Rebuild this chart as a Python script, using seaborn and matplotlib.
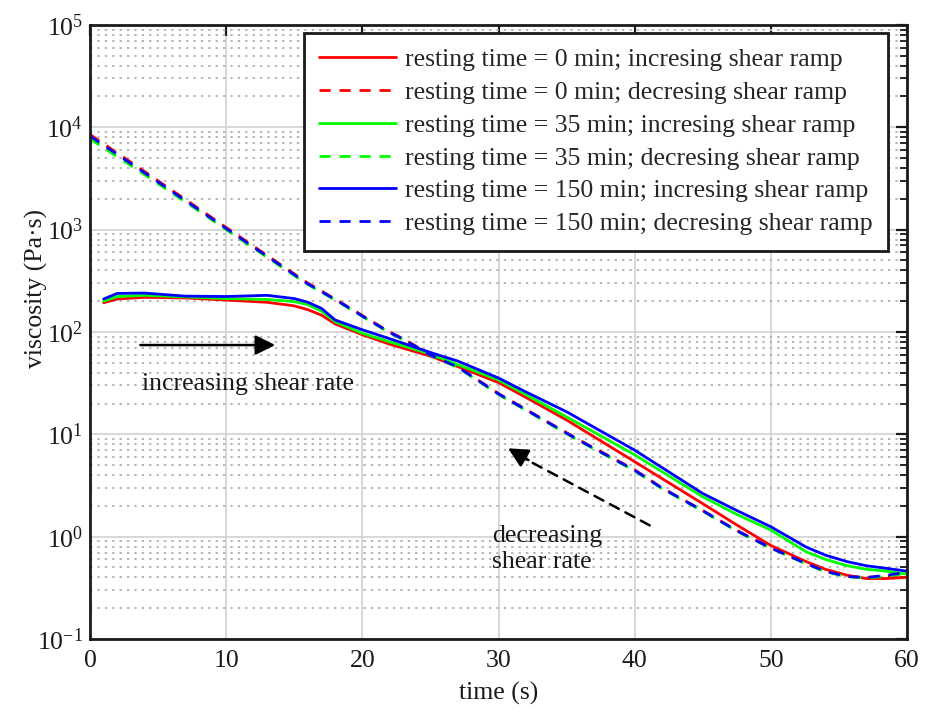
import numpy as np
import pandas as pd
import matplotlib
matplotlib.use("Agg")
import matplotlib.pyplot as plt
import seaborn as sns
from matplotlib.ticker import FixedLocator, FixedFormatter, NullFormatter

# --- data -------------------------------------------------------------
t_inc = [1, 2, 4, 7, 10, 13, 15, 16, 17, 18, 20, 22, 25, 27, 30, 32, 35, 40,
         45, 47.5, 50, 52.6, 54, 55.6, 57, 58.5, 60]
red_inc = [193, 210, 218, 215, 205, 195, 180, 165, 146, 120, 94, 76, 58, 46,
           32, 23, 13.8, 5.4, 2.1, 1.3, 0.82, 0.57, 0.48, 0.42, 0.39, 0.39, 0.40]
green_inc = [200, 222, 228, 220, 212, 208, 198, 185, 160, 126, 97, 80, 61, 48,
             34, 24.5, 14.8, 6.3, 2.45, 1.65, 1.16, 0.71, 0.60, 0.52, 0.48, 0.46, 0.43]
blue_inc = [210, 238, 240, 224, 222, 228, 212, 195, 170, 131, 105, 86, 63, 52,
            35.5, 26, 16.6, 7.0, 2.64, 1.8, 1.25, 0.79, 0.66, 0.57, 0.52, 0.49, 0.46]

t_dec = [0, 4, 8, 12, 16, 18, 20, 22, 23, 25, 27, 30, 33, 36, 40, 42, 45, 47.5,
         50, 52.6, 54, 55.6, 57, 58.5, 60]
red_dec = [8500, 3700, 1600, 690, 300, 210, 145, 100, 86, 60, 46, 25, 14.7, 8.7,
           4.5, 3.0, 1.8, 1.15, 0.78, 0.55, 0.46, 0.41, 0.40, 0.41, 0.43]
green_dec = [7700, 3450, 1520, 660, 290, 205, 142, 98, 84, 59, 45, 24.5, 14.4, 8.5,
             4.4, 2.95, 1.77, 1.13, 0.77, 0.54, 0.455, 0.405, 0.395, 0.41, 0.44]
blue_dec = [8200, 3600, 1560, 675, 295, 208, 143, 99, 85, 59.5, 45.5, 24.8, 14.6, 8.6,
            4.45, 2.98, 1.79, 1.14, 0.775, 0.545, 0.458, 0.408, 0.398, 0.42, 0.45]

labels = [
    "resting time = 0 min; incresing shear ramp",
    "resting time = 0 min; decresing shear ramp",
    "resting time = 35 min; incresing shear ramp",
    "resting time = 35 min; decresing shear ramp",
    "resting time = 150 min; incresing shear ramp",
    "resting time = 150 min; decresing shear ramp",
]
y_ticks = [0.1, 1, 10, 100, 1000, 10000, 100000]
y_tick_labels = [r"$10^{-1}$", r"$10^{0}$", r"$10^{1}$", r"$10^{2}$",
                 r"$10^{3}$", r"$10^{4}$", r"$10^{5}$"]
x_ticks = [0, 10, 20, 30, 40, 50, 60]

series = [
    (labels[0], t_inc, red_inc),
    (labels[1], t_dec, red_dec),
    (labels[2], t_inc, green_inc),
    (labels[3], t_dec, green_dec),
    (labels[4], t_inc, blue_inc),
    (labels[5], t_dec, blue_dec),
]
df = pd.concat(
    [pd.DataFrame({"time": t, "viscosity": v, "series": name}) for name, t, v in series],
    ignore_index=True,
)

# --- style ------------------------------------------------------------
sns.set_style("white")
plt.rcParams["font.family"] = ["Liberation Serif", "DejaVu Serif"]
plt.rcParams["mathtext.fontset"] = "custom"
plt.rcParams["mathtext.rm"] = "Liberation Serif"
plt.rcParams["mathtext.it"] = "Liberation Serif:italic"
plt.rcParams["mathtext.bf"] = "Liberation Serif:bold"

TXT = "#1a1a1a"
FS = 18.5

palette = {labels[0]: "#ff0000", labels[1]: "#ff0000",
           labels[2]: "#00ff00", labels[3]: "#00ff00",
           labels[4]: "#0000ff", labels[5]: "#0000ff"}
dash_map = {labels[0]: "", labels[1]: (4, 3.2),
            labels[2]: "", labels[3]: (4, 3.2),
            labels[4]: "", labels[5]: (4, 3.2)}

fig = plt.figure(figsize=(9.26, 7.13), dpi=100)
ax = fig.add_axes([0.0972, 0.1038, 0.8823, 0.8612])

sns.lineplot(data=df, x="time", y="viscosity", hue="series", style="series",
             hue_order=labels, style_order=labels, palette=palette,
             dashes=dash_map, estimator=None, sort=False, linewidth=2.0, ax=ax)

ax.set_yscale("log")
ax.set_xlim(0, 60)
ax.set_ylim(0.1, 1e5)

ax.xaxis.set_major_locator(FixedLocator(x_ticks))
ax.set_xticklabels([str(v) for v in x_ticks])
ax.yaxis.set_major_locator(FixedLocator(y_ticks))
ax.yaxis.set_major_formatter(FixedFormatter(y_tick_labels))
minor = [m * 10.0 ** e for e in range(-1, 5) for m in range(2, 10)]
ax.yaxis.set_minor_locator(FixedLocator(minor))
ax.yaxis.set_minor_formatter(NullFormatter())

ax.grid(True, which="major", axis="both", color="#d4d4d4", linewidth=1.3, linestyle="-")
ax.grid(True, which="minor", axis="y", color="#b5b5b5", linewidth=1.4,
        linestyle=(0, (1.2, 2.6)))
ax.set_axisbelow(True)

ax.tick_params(which="both", direction="in", top=True, right=True, colors=TXT,
               labelsize=18.5, labelcolor=TXT)
ax.tick_params(which="major", length=8, width=1.6)
ax.tick_params(which="minor", length=5, width=1.3)
ax.tick_params(axis="x", pad=8)
ax.tick_params(axis="y", pad=5)
for s in ax.spines.values():
    s.set_color(TXT)
    s.set_linewidth(2.0)

ax.set_xlabel("time (s)", fontsize=FS, color=TXT, labelpad=7)
ax.set_ylabel("viscosity (Pa·s)", fontsize=FS, color=TXT)
ax.yaxis.set_label_coords(-0.051, 0.57)

handles, hl = ax.get_legend_handles_labels()
leg = ax.legend(handles, hl, loc="upper right", bbox_to_anchor=(0.977, 0.987),
                fontsize=FS, frameon=True, fancybox=False, framealpha=1,
                edgecolor=TXT, handlelength=3.0, handletextpad=0.35,
                labelspacing=0.38, borderpad=0.6, borderaxespad=0)
leg.get_frame().set_linewidth(2.0)
for line in leg.get_lines():
    line.set_linewidth(2.0)

# arrows and notes
ax.annotate("", xy=(13.6, 74.5), xytext=(3.7, 74.5),
            arrowprops=dict(arrowstyle="-|>", color="black", lw=1.8,
                            mutation_scale=30, shrinkA=0, shrinkB=0))
ax.text(3.8, 31, "increasing shear rate", fontsize=FS, ha="left", va="center",
        color=TXT)
# dashed shaft, then a solid head at its upper end
ax.annotate("", xy=(31.6, 6.1), xytext=(41.1, 1.29),
            arrowprops=dict(arrowstyle="-", color="black", lw=1.8, linestyle=(0, (4, 3)),
                            shrinkA=0, shrinkB=0))
ax.annotate("", xy=(30.7, 7.3), xytext=(32.2, 5.6),
            arrowprops=dict(arrowstyle="-|>", color="black", lw=1.8,
                            mutation_scale=30, shrinkA=0, shrinkB=0))
ax.text(29.5, 0.755, "decreasing\nshear rate", fontsize=FS, ha="left", va="center",
        color=TXT, linespacing=1.2)

fig.savefig("out.png", dpi=100)
